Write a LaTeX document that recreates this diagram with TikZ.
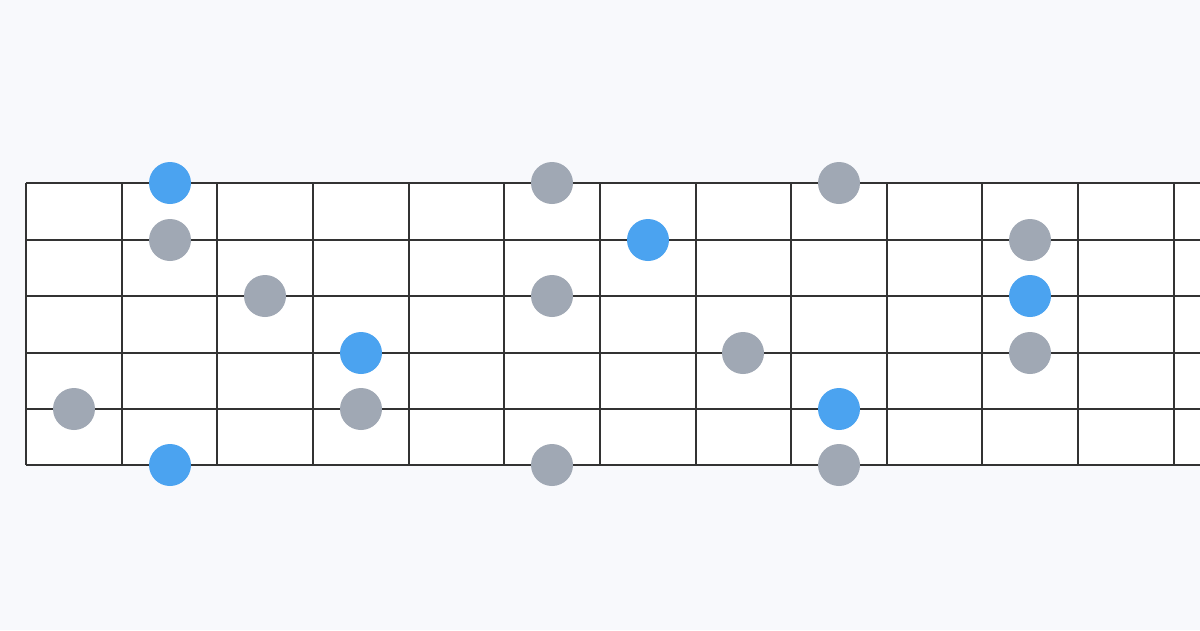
\documentclass[tikz,border=0pt]{standalone}
\usetikzlibrary{calc}
\definecolor{bg}{HTML}{F8F9FC}
\definecolor{gridline}{HTML}{333333}
\definecolor{rootblue}{HTML}{4BA3F0}
\definecolor{notegray}{HTML}{A0A8B4}
\tikzset{
  fretline/.style={draw=gridline, line width=1.6pt},
  note/.style={circle, fill=notegray, minimum size=42pt, inner sep=0pt, draw=none},
  root/.style={circle, fill=rootblue, minimum size=42pt, inner sep=0pt, draw=none},
}
\begin{document}
\begin{tikzpicture}[x=1pt,y=-1pt]
\useasboundingbox (0,0) rectangle (1200,630);
\fill[bg] (0,0) rectangle (1200,630);
\begin{scope}
\clip (0,0) rectangle (1200,630);
\fill[white] (26,183) rectangle (1280,465);
\foreach \y in {183,240,296,353,409,465} {
  \draw[fretline] (26,\y) -- (1280,\y);
}
\foreach \x in {26,122,217,313,409,504,600,696,791,887,982,1078,1174,1270} {
  \draw[fretline] (\x,183) -- (\x,465);
}
\end{scope}
% notes: (fret column center, string row)
\node[root] (n1) at (170,183) {};
\node[note] (n2) at (170,240) {};
\node[note] (n3) at (265,296) {};
\node[root] (n4) at (361,353) {};
\node[note] (n5) at (74,409) {};
\node[note] (n6) at (361,409) {};
\node[root] (n7) at (170,465) {};
\node[note] (n8) at (552,183) {};
\node[note] (n9) at (552,296) {};
\node[note] (n10) at (552,465) {};
\node[root] (n11) at (648,240) {};
\node[note] (n12) at (743,353) {};
\node[note] (n13) at (839,183) {};
\node[root] (n14) at (839,409) {};
\node[note] (n15) at (839,465) {};
\node[note] (n16) at (1030,240) {};
\node[root] (n17) at (1030,296) {};
\node[note] (n18) at (1030,353) {};
\end{tikzpicture}
\end{document}
